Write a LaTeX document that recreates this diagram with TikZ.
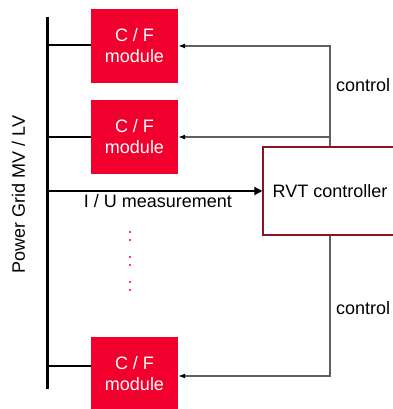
\documentclass[tikz,border=0pt]{standalone}
\usepackage{fontspec}
\setmainfont{Liberation Sans}
\usetikzlibrary{arrows.meta}
\definecolor{cfred}{RGB}{242,0,45}
\definecolor{rvtred}{RGB}{140,20,30}
\definecolor{ctrlgray}{RGB}{95,95,95}
\begin{document}
\begin{tikzpicture}[x=1pt,y=-1pt,
  font=\fontsize{18}{21}\selectfont,
  cfbox/.style={fill=cfred,draw=none,minimum width=87pt,minimum height=74pt,inner sep=0pt,text=white,align=center},
  rvtbox/.style={draw=rvtred,line width=1.3pt,fill=white,minimum width=134pt,minimum height=88pt,inner sep=0pt},
  busline/.style={line width=3pt},
  branch/.style={line width=2.5pt},
  ctrl/.style={draw=ctrlgray,line width=1.2pt,-{Latex[length=7pt,width=5pt,color=black]}},
  lbl/.style={inner sep=0pt}]
\useasboundingbox (0,0) rectangle (392,409);
% bus
\coordinate (bt) at (47,17);
\coordinate (bb) at (47,389);
\draw[busline] (bt) -- (bb);
% modules
\node[cfbox] (m1) at (134.5,46) {C / F\\module};
\node[cfbox] (m2) at (134.5,137) {C / F\\module};
\node[cfbox] (m3) at (134.5,374) {C / F\\module};
% controller
\node[rvtbox] (rvt) at (330,191) {RVT controller};
% branches
\draw[branch] ([yshift=1pt]m1.west) -- ([yshift=1pt]m1.west -| bt);
\draw[branch] (m2.west) -- (m2.west -| bt);
\draw[branch] ([yshift=8pt]m3.west) -- ([yshift=8pt]m3.west -| bt);
% measurement
\draw[line width=2pt,-{Triangle[length=8pt,width=8pt]}] (bt |- rvt.west) -- (rvt.west)
  node[lbl,anchor=base,pos=0.515,yshift=-16.5pt] (meas) {I / U measurement};
% control lines
\draw[ctrl] (rvt.north) |- (m1.east);
\draw[ctrl] (rvt.north |- m2.east) -- (m2.east);
\draw[ctrl] (rvt.south) |- ([yshift=-2pt]m3.east);
\node[lbl,anchor=base west] (c1) at (336,92) {control};
\node[lbl,anchor=base west] (c2) at (336,314) {control};
% vertical label
\node[lbl,rotate=90] (grid) at (18.5,194.5) {Power Grid MV / LV};
% dots
\foreach \y in {232,240,257,265,282,290} \fill[cfred] (130,\y) circle (1.2pt);
\end{tikzpicture}
\end{document}
